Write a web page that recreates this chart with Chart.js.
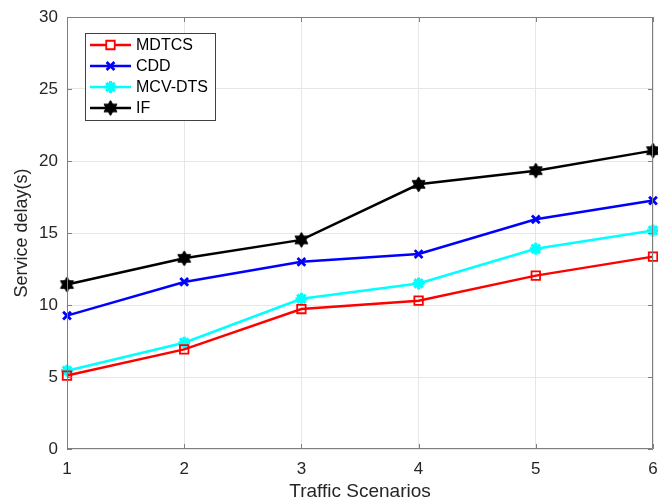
<!DOCTYPE html>
<html>
<head>
<meta charset="utf-8">
<script src="https://cdn.jsdelivr.net/npm/chart.js@4.4.0/dist/chart.umd.min.js"></script>
<style>
html,body{margin:0;padding:0;background:#fff;}
#wrap{width:658px;height:503px;}
</style>
</head>
<body>
<div id="wrap"><canvas id="c" width="658" height="503"></canvas></div>
<script>
const scenarios = [1, 2, 3, 4, 5, 6];
const mdtcs = [5.1, 6.92, 9.72, 10.3, 12.04, 13.36];
const cdd = [9.26, 11.6, 13.0, 13.54, 15.95, 17.25];
const mcvdts = [5.44, 7.38, 10.43, 11.5, 13.9, 15.18];
const iff = [11.42, 13.24, 14.52, 18.38, 19.33, 20.72];
const seriesNames = ['MDTCS', 'CDD', 'MCV-DTS', 'IF'];
const yTicks = [0, 5, 10, 15, 20, 25, 30];
const xTitle = 'Traffic Scenarios';
const yTitle = 'Service delay(s)';

const FONT = '"Liberation Sans", Arial, Helvetica, sans-serif';
const TXT = '#262626';

function hexagram(r) {
  const s = Math.ceil(r * 2 + 4);
  const cv = document.createElement('canvas');
  cv.width = s; cv.height = s;
  const g = cv.getContext('2d');
  const c = s / 2;
  g.fillStyle = '#000';
  g.strokeStyle = '#000';
  g.lineWidth = 1;
  for (const off of [-Math.PI / 2, Math.PI / 2]) {
    g.beginPath();
    for (let i = 0; i < 3; i++) {
      const a = off + i * 2 * Math.PI / 3;
      const x = c + r * Math.cos(a), y = c + r * Math.sin(a);
      if (i === 0) g.moveTo(x, y); else g.lineTo(x, y);
    }
    g.closePath();
    g.fill();
    g.stroke();
  }
  return cv;
}
const hexImg = hexagram(7.5);

function pts(arr) { return scenarios.map((x, i) => ({x: x, y: arr[i]})); }

const datasets = [
  {label: seriesNames[0], data: pts(mdtcs), borderColor: '#ff0000', backgroundColor: 'rgba(0,0,0,0)',
   pointStyle: 'rect', pointRadius: 6, pointBorderWidth: 1.8, borderWidth: 2.5},
  {label: seriesNames[1], data: pts(cdd), borderColor: '#0000ff', backgroundColor: '#0000ff',
   pointStyle: 'crossRot', pointRadius: 5.5, pointBorderWidth: 2.8, borderWidth: 2.5},
  {label: seriesNames[2], data: pts(mcvdts), borderColor: '#00ffff', backgroundColor: '#00ffff',
   pointStyle: 'star', pointRadius: 6, pointBorderWidth: 3.2, borderWidth: 2.5},
  {label: seriesNames[3], data: pts(iff), borderColor: '#000000', backgroundColor: '#000000',
   pointStyle: hexImg, pointRadius: 8, pointBorderWidth: 1, borderWidth: 2.5}
];
datasets.forEach(d => { d.tension = 0; d.pointHoverRadius = d.pointRadius; d.clip = false; });

const boxPlugin = {
  id: 'boxPlugin',
  afterDatasetsDraw(chart) {
    const ctx = chart.ctx, a = chart.chartArea;
    const xs = chart.scales.x, ys = chart.scales.y;
    ctx.save();
    ctx.strokeStyle = '#7f7f7f';
    ctx.lineWidth = 1;
    ctx.beginPath();
    ctx.moveTo(a.left + 0.5, a.top + 0.5); ctx.lineTo(a.right - 0.5, a.top + 0.5);
    ctx.lineTo(a.right - 0.5, a.bottom - 0.5); ctx.lineTo(a.left + 0.5, a.bottom - 0.5);
    ctx.closePath();
    ctx.stroke();
    const tl = 5;
    ys.ticks.forEach(t => {
      const y = Math.round(ys.getPixelForValue(t.value)) + 0.5;
      ctx.beginPath();
      ctx.moveTo(a.left, y); ctx.lineTo(a.left + tl, y);
      ctx.moveTo(a.right, y); ctx.lineTo(a.right - tl, y);
      ctx.stroke();
    });
    xs.ticks.forEach(t => {
      const x = Math.round(xs.getPixelForValue(t.value)) + 0.5;
      ctx.beginPath();
      ctx.moveTo(x, a.bottom); ctx.lineTo(x, a.bottom - tl);
      ctx.moveTo(x, a.top); ctx.lineTo(x, a.top + tl);
      ctx.stroke();
    });
    ctx.restore();
  },
  afterDraw(chart) {
    const ctx = chart.ctx, a = chart.chartArea;
    const bx = a.left + 18, by = a.top + 16, bw = 130, bh = 87;
    ctx.save();
    ctx.fillStyle = '#fff';
    ctx.fillRect(bx, by, bw, bh);
    ctx.strokeStyle = '#404040';
    ctx.lineWidth = 1;
    ctx.strokeRect(bx + 0.5, by + 0.5, bw, bh);
    chart.data.datasets.forEach((d, i) => {
      const y = by + 12 + i * 21;
      const x0 = bx + 5, x1 = bx + 46, xm = (x0 + x1) / 2;
      ctx.strokeStyle = d.borderColor;
      ctx.lineWidth = d.borderWidth;
      ctx.beginPath(); ctx.moveTo(x0, y); ctx.lineTo(x1, y); ctx.stroke();
      if (d.pointStyle instanceof HTMLCanvasElement) {
        ctx.drawImage(d.pointStyle, xm - d.pointStyle.width / 2, y - d.pointStyle.height / 2);
      } else {
        ctx.lineWidth = d.pointBorderWidth;
        ctx.strokeStyle = d.borderColor;
        ctx.fillStyle = d.pointStyle === 'rect' ? '#fff' : d.backgroundColor;
        Chart.helpers.drawPoint(ctx, {pointStyle: d.pointStyle, radius: d.pointRadius, borderWidth: d.pointBorderWidth}, xm, y);
      }
      ctx.fillStyle = '#000';
      ctx.font = '16px ' + FONT;
      ctx.textAlign = 'left';
      ctx.textBaseline = 'middle';
      ctx.fillText(d.label, bx + 51, y + 1);
    });
    ctx.restore();
  }
};

new Chart(document.getElementById('c'), {
  type: 'line',
  data: {datasets: datasets},
  plugins: [boxPlugin],
  options: {
    responsive: false,
    animation: false,
    devicePixelRatio: 1,
    layout: {autoPadding: false, padding: {top: 17, right: 5, left: 0, bottom: 0}},
    plugins: {legend: {display: false}, tooltip: {enabled: false}},
    scales: {
      x: {
        type: 'linear', min: 1, max: 6,
        afterFit(s) { s.height = 54; s.paddingLeft = 0; s.paddingRight = 0; },
        grid: {color: '#e6e6e6', drawTicks: false},
        border: {display: false},
        ticks: {stepSize: 1, padding: 10, color: TXT, font: {family: FONT, size: 17}},
        title: {display: true, text: xTitle, color: TXT, font: {family: FONT, size: 19}, padding: {top: 1, bottom: 0}}
      },
      y: {
        min: 0, max: 30,
        afterFit(s) { s.width = 67; s.paddingTop = 0; s.paddingBottom = 0; },
        afterBuildTicks(s) { s.ticks = yTicks.map(v => ({value: v})); },
        grid: {color: '#e6e6e6', drawTicks: false},
        border: {display: false},
        ticks: {padding: 9, color: TXT, font: {family: FONT, size: 17}},
        title: {display: true, text: yTitle, color: TXT, font: {family: FONT, size: 18}, padding: {top: 11, bottom: 4}}
      }
    }
  }
});
</script>
</body>
</html>
